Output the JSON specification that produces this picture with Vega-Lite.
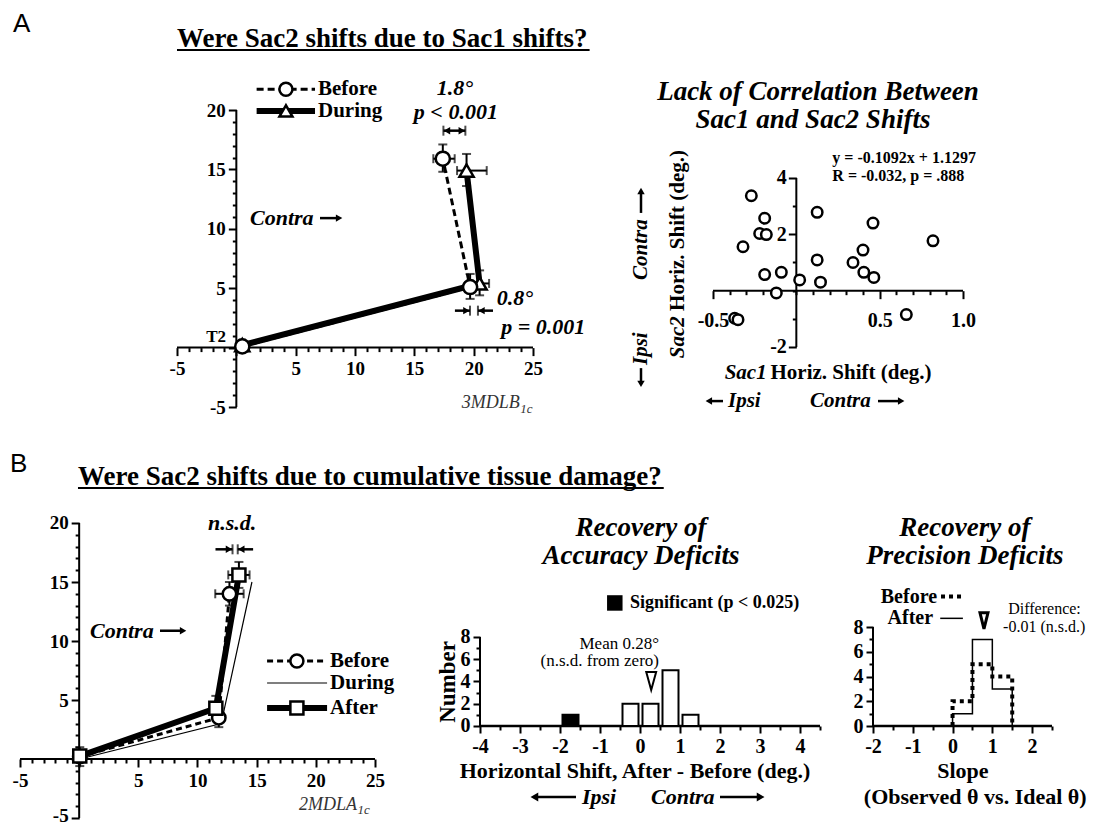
{
  "$schema": "https://vega.github.io/schema/vega-lite/v6.json",
  "background": "white",
  "width": 1099,
  "height": 827,
  "autosize": "none",
  "padding": 0,
  "config": {
    "view": {"stroke": null},
    "axis": {
      "labelFont": "Liberation Serif", "labelFontWeight": "bold", "labelFontSize": 19, "labelColor": "black",
      "domain": false, "tickColor": "black", "tickWidth": 2,
      "grid": false, "labelFlush": false, "labelOverlap": false, "labelBound": false
    },
    "text": {"font": "Liberation Serif", "color": "black", "baseline": "middle"},
    "rule": {"color": "black"},
    "line": {"color": "black"}
  },
  "datasets": {
    "lineA": [
      {"series": "Before", "o": 1, "x": 0.5, "y": 0.1},
      {"series": "Before", "o": 2, "x": 19.7, "y": 5.1},
      {"series": "Before", "o": 3, "x": 17.4, "y": 15.9},
      {"series": "During", "o": 1, "x": 0.5, "y": 0.2},
      {"series": "During", "o": 2, "x": 20.5, "y": 5.4},
      {"series": "During", "o": 3, "x": 19.4, "y": 14.9}
    ],
    "errA": [
      {"series": "Before", "x": 19.7, "y": 5.1, "xlo": 19.2, "xhi": 20.2, "ylo": 4.1, "yhi": 6.2},
      {"series": "Before", "x": 17.4, "y": 15.9, "xlo": 16.6, "xhi": 18.4, "ylo": 14.8, "yhi": 17.1},
      {"series": "During", "x": 20.5, "y": 5.4, "xlo": 19.7, "xhi": 21.3, "ylo": 4.4, "yhi": 6.5},
      {"series": "During", "x": 19.4, "y": 14.9, "xlo": 18.6, "xhi": 21.1, "ylo": 13.6, "yhi": 16.3}
    ],
    "scatter": [
      {"x": -0.27, "y": 3.37}, {"x": -0.32, "y": 1.56}, {"x": -0.22, "y": 2.03}, {"x": -0.18, "y": 1.99},
      {"x": -0.19, "y": 2.57}, {"x": -0.19, "y": 0.57}, {"x": -0.09, "y": 0.65}, {"x": -0.12, "y": -0.08},
      {"x": 0.02, "y": 0.38}, {"x": 0.125, "y": 2.78}, {"x": 0.125, "y": 1.09}, {"x": 0.145, "y": 0.3},
      {"x": 0.34, "y": 1.0}, {"x": 0.4, "y": 1.44}, {"x": 0.405, "y": 0.65}, {"x": 0.46, "y": 2.4},
      {"x": 0.465, "y": 0.47}, {"x": 0.82, "y": 1.77}, {"x": 0.66, "y": -0.85}, {"x": -0.37, "y": -0.98},
      {"x": -0.35, "y": -1.03}
    ],
    "lineB": [
      {"series": "Before", "o": 1, "x": 0.05, "y": 0.2},
      {"series": "Before", "o": 2, "x": 11.8, "y": 3.5},
      {"series": "Before", "o": 3, "x": 12.7, "y": 14.0},
      {"series": "During", "o": 1, "x": 0.05, "y": 0.0},
      {"series": "During", "o": 2, "x": 12.0, "y": 3.0},
      {"series": "During", "o": 3, "x": 14.6, "y": 15.0},
      {"series": "After", "o": 1, "x": 0.05, "y": 0.25},
      {"series": "After", "o": 2, "x": 11.55, "y": 4.3},
      {"series": "After", "o": 3, "x": 13.5, "y": 15.6}
    ],
    "errB": [
      {"series": "Before", "x": 12.7, "y": 14.0, "xlo": 11.5, "xhi": 13.9, "ylo": 13.0, "yhi": 15.0},
      {"series": "After", "x": 13.5, "y": 15.6, "xlo": 12.6, "xhi": 14.4, "ylo": 14.5, "yhi": 16.7},
      {"series": "Before", "x": 11.8, "y": 3.5, "xlo": null, "xhi": null, "ylo": 2.7, "yhi": 4.3},
      {"series": "After", "x": 11.55, "y": 4.3, "xlo": null, "xhi": null, "ylo": 3.4, "yhi": 5.35},
      {"series": "After", "x": 0.05, "y": 0.25, "xlo": null, "xhi": null, "ylo": -0.6, "yhi": 1.0}
    ],
    "histAcc": [
      {"x": -2, "x2": -1.5, "y": 1, "sig": true},
      {"x": -0.5, "x2": 0, "y": 2, "sig": false},
      {"x": 0, "x2": 0.5, "y": 2, "sig": false},
      {"x": 0.5, "x2": 1, "y": 5, "sig": false},
      {"x": 1, "x2": 1.5, "y": 1, "sig": false}
    ],
    "stepPrec": [
      {"series": "Before", "o": 0, "x": 0, "y": 0},
      {"series": "Before", "o": 1, "x": 0, "y": 2},
      {"series": "Before", "o": 2, "x": 0.5, "y": 5},
      {"series": "Before", "o": 3, "x": 1, "y": 4},
      {"series": "Before", "o": 4, "x": 1.5, "y": 0},
      {"series": "After", "o": 0, "x": 0, "y": 0},
      {"series": "After", "o": 1, "x": 0, "y": 1},
      {"series": "After", "o": 2, "x": 0.5, "y": 7},
      {"series": "After", "o": 3, "x": 1, "y": 3},
      {"series": "After", "o": 4, "x": 1.5, "y": 0}
    ]
  },
  "resolve": {"scale": {"x": "independent", "y": "independent"}},
  "layer": [
    {
      "resolve": {"scale": {"x": "shared", "y": "shared"}},
      "encoding": {
        "x": {"field": "x", "type": "quantitative", "scale": {"domain": [-19.9157, 72.6967], "nice": false, "zero": false},
          "axis": {"title": null, "orient": "bottom", "offset": -479.4,
            "values": [-5,-4,-3,-2,-1,0,1,2,3,4,5,6,7,8,9,10,11,12,13,14,15,16,17,18,19,20,21,22,23,24,25],
            "labelExpr": "datum.value % 5 === 0 && datum.value !== 0 ? '' + datum.value : ''",
            "tickSize": {"condition": {"test": "datum.value % 5 === 0", "value": 8}, "value": 4},
            "labelPadding": 4}},
        "y": {"field": "y", "type": "quantitative", "scale": {"domain": [-40.3535, 29.2593], "nice": false, "zero": false},
          "axis": {"title": null, "orient": "left", "offset": -236.33,
            "values": [-5,-4,-3,-2,-1,0,1,2,3,4,5,6,7,8,9,10,11,12,13,14,15,16,17,18,19,20],
            "labelExpr": "datum.value % 5 === 0 && datum.value !== 0 ? '' + datum.value : ''",
            "tickSize": {"condition": {"test": "datum.value % 5 === 0", "value": 8}, "value": 4},
            "labelPadding": 3}}
      },
      "layer": [
        {"data": {"values": [{"x": -5, "x2": 25, "y": 0}]},
          "mark": {"type": "rule", "strokeWidth": 2}, "encoding": {"x2": {"field": "x2"}}},
        {"data": {"values": [{"x": 0, "y": -5, "y2": 20}]},
          "mark": {"type": "rule", "strokeWidth": 2}, "encoding": {"y2": {"field": "y2"}}},
        {"data": {"values": [{"x": -5, "y": 25.3, "label": "Were Sac2 shifts due to Sac1 shifts?"}]},
          "mark": {"type": "text", "align": "left", "baseline": "alphabetic", "fontSize": 27, "fontWeight": "bold"},
          "encoding": {"text": {"field": "label"}}},
        {"data": {"values": [{"x": -5, "x2": 29.77, "y": 25.05}]},
          "mark": {"type": "rule", "strokeWidth": 2},
          "encoding": {"x2": {"field": "x2"}}},
        {"data": {"values": [{"x": -18.82, "y": 28.33, "label": "A"}]},
          "mark": {"type": "text", "align": "left", "baseline": "top", "font": "Liberation Sans", "fontSize": 26},
          "encoding": {"text": {"field": "label"}}},
        {"data": {"name": "lineA"}, "transform": [{"filter": "datum.series === 'During'"}],
          "mark": {"type": "line", "strokeWidth": 6},
          "encoding": {"order": {"field": "o"}}},
        {"data": {"name": "lineA"}, "transform": [{"filter": "datum.series === 'Before'"}],
          "mark": {"type": "line", "strokeWidth": 3, "strokeDash": [7, 4]},
          "encoding": {"order": {"field": "o"}}},
        {"data": {"name": "errA"},
          "mark": {"type": "errorbar", "ticks": true, "size": 9, "thickness": 2, "color": "black"},
          "encoding": {"x": {"field": "xlo", "type": "quantitative", "title": null}, "x2": {"field": "xhi"},
            "y": {"field": "y", "type": "quantitative", "title": null}}},
        {"data": {"name": "errA"},
          "mark": {"type": "errorbar", "ticks": true, "size": 9, "thickness": 2, "color": "black"},
          "encoding": {"y": {"field": "ylo", "type": "quantitative", "title": null}, "y2": {"field": "yhi"},
            "x": {"field": "x", "type": "quantitative", "title": null}}},
        {"data": {"name": "lineA"}, "transform": [{"filter": "datum.series === 'During'"}],
          "mark": {"type": "point", "shape": "triangle-up", "filled": true, "fill": "white", "stroke": "black", "strokeWidth": 2.5, "size": 200, "opacity": 1}},
        {"data": {"name": "lineA"}, "transform": [{"filter": "datum.series === 'Before'"}],
          "mark": {"type": "point", "shape": "circle", "filled": true, "fill": "white", "stroke": "black", "strokeWidth": 2.5, "size": 200, "opacity": 1}},
        {"data": {"values": [{"x": 1.71, "x2": 6.63, "y": 21.74}]},
          "mark": {"type": "rule", "strokeWidth": 3, "strokeDash": [7, 4]},
          "encoding": {"x2": {"field": "x2"}}},
        {"data": {"values": [{"x": 1.71, "x2": 6.63, "y": 19.92}]},
          "mark": {"type": "rule", "strokeWidth": 6},
          "encoding": {"x2": {"field": "x2"}}},
        {"data": {"values": [{"x": 4.18, "y": 21.74}]},
          "mark": {"type": "point", "shape": "circle", "filled": true, "fill": "white", "stroke": "black", "strokeWidth": 2.5, "size": 170, "opacity": 1}},
        {"data": {"values": [{"x": 4.18, "y": 19.92}]},
          "mark": {"type": "point", "shape": "triangle-up", "filled": true, "fill": "white", "stroke": "black", "strokeWidth": 2.5, "size": 170, "opacity": 1}},
        {"data": {"values": [{"x": 6.88, "y": 21.78, "label": "Before"}, {"x": 6.88, "y": 19.88, "label": "During"}]},
          "mark": {"type": "text", "align": "left", "fontSize": 21, "fontWeight": "bold"},
          "encoding": {"text": {"field": "label"}}},
        {"data": {"values": [
            {"x": 18.42, "y": 21.85, "label": "1.8°"}, {"x": 18.5, "y": 19.86, "label": "p < 0.001"},
            {"x": 23.47, "y": 4.15, "label": "0.8°"}, {"x": 25.86, "y": 1.76, "label": "p = 0.001"}]},
          "mark": {"type": "text", "align": "center", "fontSize": 22, "fontWeight": "bold", "fontStyle": "italic"},
          "encoding": {"text": {"field": "label"}}},
        {"data": {"values": [{"x": 1.15, "y": 10.9, "label": "Contra"}]},
          "mark": {"type": "text", "align": "left", "fontSize": 22, "fontWeight": "bold", "fontStyle": "italic"},
          "encoding": {"text": {"field": "label"}}},
        {"data": {"values": [{"x": -0.87, "y": 0.87, "label": "T2"}]},
          "mark": {"type": "text", "align": "right", "fontSize": 17, "fontWeight": "bold"},
          "encoding": {"text": {"field": "label"}}},
        {"data": {"values": [{"x": 23.88, "y": -4.66, "label": "3MDLB"}]},
          "mark": {"type": "text", "align": "right", "fontSize": 18, "fontStyle": "italic", "color": "#333333"},
          "encoding": {"text": {"field": "label"}}},
        {"data": {"values": [{"x": 23.92, "y": -5.15, "label": "1c"}]},
          "mark": {"type": "text", "align": "left", "fontSize": 13, "fontStyle": "italic", "color": "#333333"},
          "encoding": {"text": {"field": "label"}}},
        {"data": {"values": [{"x": 17.45, "x2": 19.3, "y": 18.26}, {"x": 18.42, "x2": 19.69, "y": 3.11}, {"x": 20.36, "x2": 21.63, "y": 3.11}, {"x": 7.05, "x2": 8.66, "y": 10.9}]},
          "mark": {"type": "rule", "strokeWidth": 2.5},
          "encoding": {"x2": {"field": "x2"}}},
        {"data": {"values": [{"x": 17.45, "y": 18.26}, {"x": 19.3, "y": 18.26}, {"x": 19.69, "y": 3.11}, {"x": 20.36, "y": 3.11}]},
          "mark": {"type": "tick", "orient": "vertical", "size": 10, "thickness": 2, "color": "black"}},
        {"data": {"values": [{"x": 17.75, "y": 18.26}, {"x": 20.66, "y": 3.11}]},
          "mark": {"type": "point", "shape": "triangle-left", "filled": true, "color": "black", "size": 55, "opacity": 1}},
        {"data": {"values": [{"x": 19.0, "y": 18.26}, {"x": 19.39, "y": 3.11}, {"x": 8.66, "y": 10.9}]},
          "mark": {"type": "point", "shape": "triangle-right", "filled": true, "color": "black", "size": 55, "opacity": 1}}
      ]
    },
    {
      "resolve": {"scale": {"x": "shared", "y": "shared"}},
      "encoding": {
        "x": {"field": "x", "type": "quantitative", "scale": {"domain": [-4.778, 1.816], "nice": false, "zero": false},
          "axis": {"title": null, "orient": "bottom", "offset": -536.33,
            "values": [-0.5,-0.4,-0.3,-0.2,-0.1,0,0.1,0.2,0.3,0.4,0.5,0.6,0.7,0.8,0.9,1],
            "labelExpr": "datum.value === -0.5 ? '-0.5' : datum.value === 0.5 ? '0.5' : datum.value === 1 ? '1.0' : ''",
            "tickSize": {"condition": {"test": "datum.value === -0.5 || datum.value === 0.5 || datum.value === 1", "value": 8}, "value": 4},
            "labelPadding": 12, "labelFontSize": 20}},
        "y": {"field": "y", "type": "quantitative", "scale": {"domain": [-19.0414, 10.3195], "nice": false, "zero": false},
          "axis": {"title": null, "orient": "left", "offset": -796.33,
            "values": [-2,-1,0,1,2,3,4],
            "labelExpr": "datum.value === 4 || datum.value === 2 || datum.value === -2 ? '' + datum.value : ''",
            "tickSize": {"condition": {"test": "datum.value === 4 || datum.value === 2 || datum.value === -2", "value": 8}, "value": 4},
            "labelPadding": 2, "labelFontSize": 20}}
      },
      "layer": [
        {"data": {"values": [{"x": -0.5, "x2": 1, "y": 0}]},
          "mark": {"type": "rule", "strokeWidth": 2}, "encoding": {"x2": {"field": "x2"}}},
        {"data": {"values": [{"x": 0, "y": -2, "y2": 4}]},
          "mark": {"type": "rule", "strokeWidth": 2}, "encoding": {"y2": {"field": "y2"}}},
        {"data": {"values": [{"x": 0.13, "y": 7.06, "label": "Lack of Correlation Between"}, {"x": 0.1, "y": 6.06, "label": "Sac1 and Sac2 Shifts"}]},
          "mark": {"type": "text", "align": "center", "fontSize": 27, "fontWeight": "bold", "fontStyle": "italic"},
          "encoding": {"text": {"field": "label"}}},
        {"data": {"name": "scatter"},
          "mark": {"type": "point", "shape": "circle", "filled": true, "fill": "white", "stroke": "black", "strokeWidth": 2.5, "size": 110, "opacity": 1}},
        {"data": {"values": [{"x": 0.216, "y": 4.7, "label": "y = -0.1092x + 1.1297"}, {"x": 0.216, "y": 4.08, "label": "R = -0.032, p = .888"}]},
          "mark": {"type": "text", "align": "left", "fontSize": 16, "fontWeight": "bold"},
          "encoding": {"text": {"field": "label"}}},
        {"data": {"values": [{"x": -0.43, "y": -2.92, "label": "Sac1"}]},
          "mark": {"type": "text", "align": "left", "fontSize": 21, "fontWeight": "bold", "fontStyle": "italic"},
          "encoding": {"text": {"field": "label"}}},
        {"data": {"values": [{"x": -0.155, "y": -2.92, "label": "Horiz. Shift (deg.)"}]},
          "mark": {"type": "text", "align": "left", "fontSize": 21, "fontWeight": "bold"},
          "encoding": {"text": {"field": "label"}}},
        {"data": {"values": [{"x": -0.41, "y": -3.92, "label": "Ipsi"}, {"x": 0.082, "y": -3.92, "label": "Contra"}]},
          "mark": {"type": "text", "align": "left", "fontSize": 21, "fontWeight": "bold", "fontStyle": "italic"},
          "encoding": {"text": {"field": "label"}}},
        {"data": {"values": [{"x": -0.708, "y": -2.4, "label": "Sac2"}]},
          "mark": {"type": "text", "align": "left", "angle": 270, "fontSize": 21, "fontWeight": "bold", "fontStyle": "italic"},
          "encoding": {"text": {"field": "label"}}},
        {"data": {"values": [{"x": -0.708, "y": -0.72, "label": "Horiz. Shift (deg.)"}]},
          "mark": {"type": "text", "align": "left", "angle": 270, "fontSize": 21, "fontWeight": "bold"},
          "encoding": {"text": {"field": "label"}}},
        {"data": {"values": [{"x": -0.932, "y": 0.38, "label": "Contra"}, {"x": -0.932, "y": -2.64, "label": "Ipsi"}]},
          "mark": {"type": "text", "align": "left", "angle": 270, "fontSize": 21, "fontWeight": "bold", "fontStyle": "italic"},
          "encoding": {"text": {"field": "label"}}},
        {"data": {"values": [{"x": -0.525, "x2": -0.44, "y": -3.92}, {"x": 0.49, "x2": 0.629, "y": -3.92}]},
          "mark": {"type": "rule", "strokeWidth": 2.5}, "encoding": {"x2": {"field": "x2"}}},
        {"data": {"values": [{"x": -0.932, "y": 2.76, "y2": 3.54}, {"x": -0.932, "y": -2.75, "y2": -3.31}]},
          "mark": {"type": "rule", "strokeWidth": 2.5}, "encoding": {"y2": {"field": "y2"}}},
        {"data": {"values": [{"x": -0.525, "y": -3.92}]},
          "mark": {"type": "point", "shape": "triangle-left", "filled": true, "color": "black", "size": 55, "opacity": 1}},
        {"data": {"values": [{"x": 0.629, "y": -3.92}]},
          "mark": {"type": "point", "shape": "triangle-right", "filled": true, "color": "black", "size": 55, "opacity": 1}},
        {"data": {"values": [{"x": -0.932, "y": 3.54}]},
          "mark": {"type": "point", "shape": "triangle-up", "filled": true, "color": "black", "size": 55, "opacity": 1}},
        {"data": {"values": [{"x": -0.932, "y": -3.31}]},
          "mark": {"type": "point", "shape": "triangle-down", "filled": true, "color": "black", "size": 55, "opacity": 1}}
      ]
    },
    {
      "resolve": {"scale": {"x": "shared", "y": "shared"}},
      "encoding": {
        "x": {"field": "x", "type": "quantitative", "scale": {"domain": [-6.6901, 86.1831], "nice": false, "zero": false},
          "axis": {"title": null, "orient": "bottom", "offset": -68,
            "values": [-5,-4,-3,-2,-1,0,1,2,3,4,5,6,7,8,9,10,11,12,13,14,15,16,17,18,19,20,21,22,23,24,25],
            "labelExpr": "datum.value % 5 === 0 && datum.value !== 0 ? '' + datum.value : ''",
            "tickSize": {"condition": {"test": "datum.value % 5 === 0", "value": 8}, "value": 4},
            "labelPadding": 4}},
        "y": {"field": "y", "type": "quantitative", "scale": {"domain": [-5.7627, 64.322], "nice": false, "zero": false},
          "axis": {"title": null, "orient": "left", "offset": -79.17,
            "values": [-5,-4,-3,-2,-1,0,1,2,3,4,5,6,7,8,9,10,11,12,13,14,15,16,17,18,19,20],
            "labelExpr": "datum.value % 5 === 0 && datum.value !== 0 ? '' + datum.value : ''",
            "tickSize": {"condition": {"test": "datum.value % 5 === 0", "value": 8}, "value": 4},
            "labelOffset": {"condition": {"test": "datum.value === -5", "value": -3}, "value": 0},
            "labelPadding": 3}}
      },
      "layer": [
        {"data": {"values": [{"x": -5, "x2": 25, "y": 0}]},
          "mark": {"type": "rule", "strokeWidth": 2}, "encoding": {"x2": {"field": "x2"}}},
        {"data": {"values": [{"x": 0, "y": -5, "y2": 20}]},
          "mark": {"type": "rule", "strokeWidth": 2}, "encoding": {"y2": {"field": "y2"}}},
        {"data": {"values": [{"x": -0.1, "y": 23.22, "label": "Were Sac2 shifts due to cumulative tissue damage?"}]},
          "mark": {"type": "text", "align": "left", "baseline": "alphabetic", "fontSize": 27, "fontWeight": "bold"},
          "encoding": {"text": {"field": "label"}}},
        {"data": {"values": [{"x": -0.1, "x2": 49.4, "y": 22.97}]},
          "mark": {"type": "rule", "strokeWidth": 2},
          "encoding": {"x2": {"field": "x2"}}},
        {"data": {"values": [{"x": -5.845, "y": 26.1, "label": "B"}]},
          "mark": {"type": "text", "align": "left", "baseline": "top", "font": "Liberation Sans", "fontSize": 26},
          "encoding": {"text": {"field": "label"}}},
        {"data": {"name": "lineB"}, "transform": [{"filter": "datum.series === 'During'"}],
          "mark": {"type": "line", "strokeWidth": 1.2},
          "encoding": {"order": {"field": "o"}}},
        {"data": {"name": "lineB"}, "transform": [{"filter": "datum.series === 'Before'"}],
          "mark": {"type": "line", "strokeWidth": 3, "strokeDash": [6, 4]},
          "encoding": {"order": {"field": "o"}}},
        {"data": {"name": "lineB"}, "transform": [{"filter": "datum.series === 'After'"}],
          "mark": {"type": "line", "strokeWidth": 6},
          "encoding": {"order": {"field": "o"}}},
        {"data": {"name": "errB"}, "transform": [{"filter": "isValid(datum.xlo)"}],
          "mark": {"type": "errorbar", "ticks": true, "size": 9, "thickness": 2, "color": "black"},
          "encoding": {"x": {"field": "xlo", "type": "quantitative", "title": null}, "x2": {"field": "xhi"},
            "y": {"field": "y", "type": "quantitative", "title": null}}},
        {"data": {"name": "errB"},
          "mark": {"type": "errorbar", "ticks": true, "size": 9, "thickness": 2, "color": "black"},
          "encoding": {"y": {"field": "ylo", "type": "quantitative", "title": null}, "y2": {"field": "yhi"},
            "x": {"field": "x", "type": "quantitative", "title": null}}},
        {"data": {"name": "lineB"}, "transform": [{"filter": "datum.series === 'Before'"}],
          "mark": {"type": "point", "shape": "circle", "filled": true, "fill": "white", "stroke": "black", "strokeWidth": 2.5, "size": 180, "opacity": 1}},
        {"data": {"name": "lineB"}, "transform": [{"filter": "datum.series === 'After'"}],
          "mark": {"type": "point", "shape": "square", "filled": true, "fill": "white", "stroke": "black", "strokeWidth": 2.5, "size": 170, "opacity": 1}},
        {"data": {"values": [{"x": 15.88, "x2": 20.95, "y": 8.31}]},
          "mark": {"type": "rule", "strokeWidth": 3, "strokeDash": [6, 4]},
          "encoding": {"x2": {"field": "x2"}}},
        {"data": {"values": [{"x": 15.88, "x2": 20.95, "y": 6.44}]},
          "mark": {"type": "rule", "strokeWidth": 1.2},
          "encoding": {"x2": {"field": "x2"}}},
        {"data": {"values": [{"x": 15.88, "x2": 20.95, "y": 4.32}]},
          "mark": {"type": "rule", "strokeWidth": 6},
          "encoding": {"x2": {"field": "x2"}}},
        {"data": {"values": [{"x": 18.4, "y": 8.31}]},
          "mark": {"type": "point", "shape": "circle", "filled": true, "fill": "white", "stroke": "black", "strokeWidth": 2.5, "size": 170, "opacity": 1}},
        {"data": {"values": [{"x": 18.4, "y": 4.32}]},
          "mark": {"type": "point", "shape": "square", "filled": true, "fill": "white", "stroke": "black", "strokeWidth": 2.5, "size": 170, "opacity": 1}},
        {"data": {"values": [{"x": 21.2, "y": 8.31, "label": "Before"}, {"x": 21.2, "y": 6.44, "label": "During"}, {"x": 21.2, "y": 4.32, "label": "After"}]},
          "mark": {"type": "text", "align": "left", "fontSize": 21, "fontWeight": "bold"},
          "encoding": {"text": {"field": "label"}}},
        {"data": {"values": [{"x": 12.92, "y": 20.0, "label": "n.s.d."}]},
          "mark": {"type": "text", "align": "center", "fontSize": 22, "fontWeight": "bold", "fontStyle": "italic"},
          "encoding": {"text": {"field": "label"}}},
        {"data": {"values": [{"x": 0.92, "y": 10.87, "label": "Contra"}]},
          "mark": {"type": "text", "align": "left", "fontSize": 22, "fontWeight": "bold", "fontStyle": "italic"},
          "encoding": {"text": {"field": "label"}}},
        {"data": {"values": [{"x": 23.48, "y": -3.9, "label": "2MDLA"}]},
          "mark": {"type": "text", "align": "right", "fontSize": 18, "fontStyle": "italic", "color": "#333333"},
          "encoding": {"text": {"field": "label"}}},
        {"data": {"values": [{"x": 23.52, "y": -4.35, "label": "1c"}]},
          "mark": {"type": "text", "align": "left", "fontSize": 13, "fontStyle": "italic", "color": "#333333"},
          "encoding": {"text": {"field": "label"}}},
        {"data": {"values": [{"x": 11.52, "x2": 12.96, "y": 17.77}, {"x": 13.4, "x2": 14.7, "y": 17.77}, {"x": 6.83, "x2": 8.78, "y": 10.87}]},
          "mark": {"type": "rule", "strokeWidth": 2.5},
          "encoding": {"x2": {"field": "x2"}}},
        {"data": {"values": [{"x": 12.96, "y": 17.77}, {"x": 13.4, "y": 17.77}]},
          "mark": {"type": "tick", "orient": "vertical", "size": 10, "thickness": 2, "color": "black"}},
        {"data": {"values": [{"x": 12.66, "y": 17.77}, {"x": 8.78, "y": 10.87}]},
          "mark": {"type": "point", "shape": "triangle-right", "filled": true, "color": "black", "size": 55, "opacity": 1}},
        {"data": {"values": [{"x": 13.7, "y": 17.77}]},
          "mark": {"type": "point", "shape": "triangle-left", "filled": true, "color": "black", "size": 55, "opacity": 1}}
      ]
    },
    {
      "resolve": {"scale": {"x": "shared", "y": "shared"}},
      "encoding": {
        "x": {"field": "x", "type": "quantitative", "scale": {"domain": [-16, 11.475], "nice": false, "zero": false},
          "axis": {"title": null, "orient": "bottom", "offset": -101,
            "values": [-4,-3.5,-3,-2.5,-2,-1.5,-1,-0.5,0,0.5,1,1.5,2,2.5,3,3.5,4,4.5],
            "labelExpr": "datum.value % 1 === 0 && datum.value <= 4 ? '' + datum.value : ''",
            "tickSize": {"condition": {"test": "datum.value % 1 === 0", "value": 7}, "value": 4},
            "labelPadding": 3, "labelFontSize": 20}},
        "y": {"field": "y", "type": "quantitative", "scale": {"domain": [-9.0787, 65.2584], "nice": false, "zero": false},
          "axis": {"title": null, "orient": "left", "offset": -480,
            "values": [0,1,2,3,4,5,6,7,8],
            "labelExpr": "datum.value % 2 === 0 ? '' + datum.value : ''",
            "tickSize": {"condition": {"test": "datum.value % 2 === 0", "value": 7}, "value": 4},
            "labelPadding": 3, "labelFontSize": 20}}
      },
      "layer": [
        {"data": {"values": [{"x": -4, "x2": 4.5, "y": 0}]},
          "mark": {"type": "rule", "strokeWidth": 2.5}, "encoding": {"x2": {"field": "x2"}}},
        {"data": {"values": [{"x": -4, "y": 0, "y2": 8}]},
          "mark": {"type": "rule", "strokeWidth": 2}, "encoding": {"y2": {"field": "y2"}}},
        {"data": {"values": [{"x": 0.025, "y": 17.8, "label": "Recovery of"}, {"x": 0.025, "y": 15.28, "label": "Accuracy Deficits"}]},
          "mark": {"type": "text", "align": "center", "fontSize": 27, "fontWeight": "bold", "fontStyle": "italic"},
          "encoding": {"text": {"field": "label"}}},
        {"data": {"name": "histAcc"},
          "mark": {"type": "bar", "stroke": "black", "strokeWidth": 2, "xOffset": 2.5, "x2Offset": -1.5},
          "encoding": {"x2": {"field": "x2"}, "y2": {"datum": 0},
            "fill": {"condition": {"test": "datum.sig", "value": "black"}, "value": "white"}}},
        {"data": {"values": [{"x": 0.28, "y": 4.04}]},
          "mark": {"type": "point", "shape": "M-0.55,-1L0.55,-1L0,1Z", "filled": true, "fill": "white", "stroke": "black", "strokeWidth": 2, "size": 324, "opacity": 1}},
        {"data": {"values": [{"x": -0.63, "y": 11.06}]},
          "mark": {"type": "point", "shape": "square", "filled": true, "color": "black", "size": 240, "opacity": 1}},
        {"data": {"values": [{"x": -0.25, "y": 11.06, "label": "Significant (p < 0.025)"}]},
          "mark": {"type": "text", "align": "left", "fontSize": 18, "fontWeight": "bold"},
          "encoding": {"text": {"field": "label"}}},
        {"data": {"values": [{"x": 0.475, "y": 7.4, "label": "Mean 0.28°"}, {"x": 0.475, "y": 5.85, "label": "(n.s.d. from zero)"}]},
          "mark": {"type": "text", "align": "right", "fontSize": 17},
          "encoding": {"text": {"field": "label"}}},
        {"data": {"values": [{"x": -0.125, "y": -4.04, "label": "Horizontal Shift, After - Before (deg.)"}]},
          "mark": {"type": "text", "align": "center", "fontSize": 22, "fontWeight": "bold"},
          "encoding": {"text": {"field": "label"}}},
        {"data": {"values": [{"x": -1.45, "y": -6.38, "label": "Ipsi"}, {"x": 0.275, "y": -6.38, "label": "Contra"}]},
          "mark": {"type": "text", "align": "left", "fontSize": 22, "fontWeight": "bold", "fontStyle": "italic"},
          "encoding": {"text": {"field": "label"}}},
        {"data": {"values": [{"x": -2.64, "x2": -1.6, "y": -6.38}, {"x": 2.0, "x2": 3.015, "y": -6.38}]},
          "mark": {"type": "rule", "strokeWidth": 2.5},
          "encoding": {"x2": {"field": "x2"}}},
        {"data": {"values": [{"x": -2.64, "y": -6.38}]},
          "mark": {"type": "point", "shape": "triangle-left", "filled": true, "color": "black", "size": 80, "opacity": 1}},
        {"data": {"values": [{"x": 3.015, "y": -6.38}]},
          "mark": {"type": "point", "shape": "triangle-right", "filled": true, "color": "black", "size": 80, "opacity": 1}},
        {"data": {"values": [{"x": -4.8, "y": 3.96, "label": "Number"}]},
          "mark": {"type": "text", "align": "center", "angle": 270, "fontSize": 23, "fontWeight": "bold"},
          "encoding": {"text": {"field": "label"}}}
      ]
    },
    {
      "resolve": {"scale": {"x": "shared", "y": "shared"}},
      "encoding": {
        "x": {"field": "x", "type": "quantitative", "scale": {"domain": [-23.9469, 3.6816], "nice": false, "zero": false},
          "axis": {"title": null, "orient": "bottom", "offset": -101,
            "values": [-2,-1.5,-1,-0.5,0,0.5,1,1.5,2,2.5],
            "labelExpr": "datum.value % 1 === 0 && datum.value <= 2 ? '' + datum.value : ''",
            "tickSize": {"condition": {"test": "datum.value % 1 === 0", "value": 7}, "value": 4},
            "labelPadding": 3, "labelFontSize": 20}},
        "y": {"field": "y", "type": "quantitative", "scale": {"domain": [-8.1616, 58.6667], "nice": false, "zero": false},
          "axis": {"title": null, "orient": "left", "offset": -873,
            "values": [0,1,2,3,4,5,6,7,8],
            "labelExpr": "datum.value % 2 === 0 ? '' + datum.value : ''",
            "tickSize": {"condition": {"test": "datum.value % 2 === 0", "value": 7}, "value": 4},
            "labelPadding": 3, "labelFontSize": 20}}
      },
      "layer": [
        {"data": {"values": [{"x": -2, "x2": 2.5, "y": 0}]},
          "mark": {"type": "rule", "strokeWidth": 2.5}, "encoding": {"x2": {"field": "x2"}}},
        {"data": {"values": [{"x": -2, "y": 0, "y2": 8}]},
          "mark": {"type": "rule", "strokeWidth": 2}, "encoding": {"y2": {"field": "y2"}}},
        {"data": {"values": [{"x": 0.31, "y": 16.0, "label": "Recovery of"}, {"x": 0.31, "y": 13.74, "label": "Precision Deficits"}]},
          "mark": {"type": "text", "align": "center", "fontSize": 27, "fontWeight": "bold", "fontStyle": "italic"},
          "encoding": {"text": {"field": "label"}}},
        {"data": {"name": "stepPrec"}, "transform": [{"filter": "datum.series === 'After'"}],
          "mark": {"type": "line", "interpolate": "step-after", "strokeWidth": 1.5},
          "encoding": {"order": {"field": "o"}}},
        {"data": {"name": "stepPrec"}, "transform": [{"filter": "datum.series === 'Before'"}],
          "mark": {"type": "line", "interpolate": "step-after", "strokeWidth": 4, "strokeDash": [4, 4]},
          "encoding": {"order": {"field": "o"}}},
        {"data": {"values": [{"x": 0.79, "y": 8.5}]},
          "mark": {"type": "point", "shape": "M-0.5,-1L0.5,-1L0,1Z", "filled": true, "fill": "white", "stroke": "black", "strokeWidth": 3, "size": 256, "opacity": 1}},
        {"data": {"values": [{"x": -0.39, "y": 10.46, "label": "Before"}, {"x": -0.49, "y": 8.7, "label": "After"}]},
          "mark": {"type": "text", "align": "right", "fontSize": 20, "fontWeight": "bold"},
          "encoding": {"text": {"field": "label"}}},
        {"data": {"values": [{"x": -0.29, "x2": 0.26, "y": 10.46}]},
          "mark": {"type": "rule", "strokeWidth": 4, "strokeDash": [4, 4]},
          "encoding": {"x2": {"field": "x2"}}},
        {"data": {"values": [{"x": -0.31, "x2": 0.26, "y": 8.7}]},
          "mark": {"type": "rule", "strokeWidth": 1.5},
          "encoding": {"x2": {"field": "x2"}}},
        {"data": {"values": [{"x": 1.4, "y": 9.42, "label": "Difference:"}, {"x": 1.27, "y": 8.03, "label": "-0.01 (n.s.d.)"}]},
          "mark": {"type": "text", "align": "left", "fontSize": 16},
          "encoding": {"text": {"field": "label"}}},
        {"data": {"values": [{"x": 0.26, "y": -3.64, "label": "Slope"}, {"x": 0.57, "y": -5.74, "label": "(Observed θ vs. Ideal θ)"}]},
          "mark": {"type": "text", "align": "center", "fontSize": 22, "fontWeight": "bold"},
          "encoding": {"text": {"field": "label"}}}
      ]
    }
  ]
}
